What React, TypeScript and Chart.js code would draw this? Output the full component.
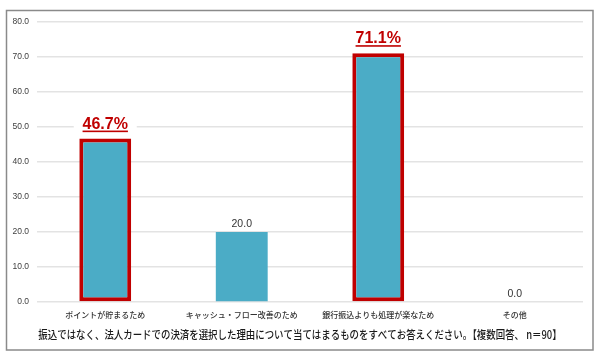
import React, { useEffect, useRef } from "react";
import { Chart, registerables } from "chart.js";

Chart.register(...registerables);

const categories = [
  "ポイントが貯まるため",
  "キャッシュ・フロー改善のため",
  "銀行振込よりも処理が楽なため",
  "その他",
];
const values = [46.7, 20.0, 71.1, 0.0];
const highlighted = [true, false, true, false];
const yMin = 0;
const yMax = 80;
const yStep = 10;
const titleText =
  "振込ではなく、法人カードでの決済を選択した理由について当てはまるものをすべてお答えください。【複数回答、 n＝90】";

const BAR_COLOR = "#4BACC6";
const HIGHLIGHT_RED = "#C00000";
const JP_FONT = '"Noto Sans CJK JP", "Noto Sans", sans-serif';
const NUM_FONT = '"Liberation Sans", Arial, sans-serif';

const framePlugin = {
  id: "frame",
  beforeDraw(chart: any) {
    const ctx = chart.ctx;
    ctx.save();
    ctx.fillStyle = "#ffffff";
    ctx.fillRect(0, 0, chart.width, chart.height);
    ctx.strokeStyle = "#8a8a8a";
    ctx.lineWidth = 1.5;
    ctx.strokeRect(6.5, 10.5, 586.5, 339.5);
    ctx.restore();
  },
  afterDraw(chart: any) {
    const ctx = chart.ctx;
    ctx.save();
    ctx.font = `500 11.5px ${JP_FONT}`;
    ctx.fillStyle = "#1a1a1a";
    ctx.textAlign = "center";
    ctx.textBaseline = "middle";
    ctx.translate(chart.width / 2, 335);
    ctx.scale(0.82, 1);
    ctx.fillText(titleText, 0, 0);
    ctx.restore();
  },
};

const labelPlugin = {
  id: "valueLabels",
  afterDatasetsDraw(chart: any) {
    const ctx = chart.ctx;
    const meta = chart.getDatasetMeta(0);
    meta.data.forEach((bar: any, i: number) => {
      const x = bar.x;
      const y = bar.y;
      ctx.save();
      ctx.textAlign = "center";
      ctx.textBaseline = "alphabetic";
      if (highlighted[i]) {
        const txt = values[i].toFixed(1) + "%";
        ctx.font = `bold 16px ${NUM_FONT}`;
        const w = ctx.measureText(txt).width;
        const base = y - 10;
        ctx.fillStyle = "#ffffff";
        ctx.fillRect(x - 31.5, base - 15, 63, 21);
        ctx.fillStyle = HIGHLIGHT_RED;
        ctx.fillText(txt, x, base);
        ctx.fillRect(x - w / 2, base + 2, w, 1.6);
      } else {
        ctx.font = `10.5px ${NUM_FONT}`;
        ctx.fillStyle = "#333333";
        ctx.fillText(values[i].toFixed(1), x, y - 5);
      }
      ctx.restore();
    });
  },
};

export default function App() {
  const canvasRef = useRef<HTMLCanvasElement | null>(null);

  useEffect(() => {
    if (!canvasRef.current) return;
    const chart = new Chart(canvasRef.current, {
      type: "bar",
      data: {
        labels: categories,
        datasets: [
          {
            data: values,
            backgroundColor: BAR_COLOR,
            borderColor: highlighted.map((h) => (h ? HIGHLIGHT_RED : BAR_COLOR)),
            borderWidth: highlighted.map((h) => (h ? 4 : 0)),
            borderSkipped: false,
            barPercentage: 0.38,
            categoryPercentage: 1,
          },
        ],
      },
      options: {
        responsive: false,
        animation: false,
        devicePixelRatio: 1,
        layout: { padding: { top: 22, left: 0, right: 17, bottom: 38 } },
        plugins: {
          legend: { display: false },
          tooltip: { enabled: false },
          title: { display: false },
        },
        scales: {
          x: {
            grid: { display: false, drawTicks: false },
            border: { display: false },
            ticks: {
              font: { family: JP_FONT, size: 8, weight: "500" },
              color: "#333333",
              padding: 8,
              maxRotation: 0,
              autoSkip: false,
            },
            afterFit(scale: any) {
              scale.height = 20;
            },
          },
          y: {
            min: yMin,
            max: yMax,
            grid: { color: "#e3e3e3", lineWidth: 1.5, drawTicks: false },
            border: { display: false },
            ticks: {
              stepSize: yStep,
              font: { family: NUM_FONT, size: 8.5 },
              color: "#404040",
              padding: 8,
              callback: (v: any) => Number(v).toFixed(1),
            },
            afterFit(scale: any) {
              scale.width = 37;
            },
          },
        },
      },
      plugins: [framePlugin, labelPlugin],
    });
    return () => chart.destroy();
  }, []);

  return (
    <div style={{ position: "fixed", left: 0, top: 0, width: 600, height: 360, background: "#fff" }}>
      <canvas ref={canvasRef} width={600} height={360} style={{ width: 600, height: 360, display: "block" }} />
    </div>
  );
}
